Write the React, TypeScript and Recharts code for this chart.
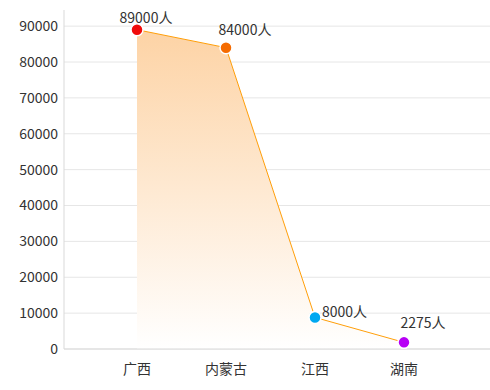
import React from "react";
import { AreaChart, Area, XAxis, YAxis, CartesianGrid, LabelList } from "recharts";

const provinces = ["广西", "内蒙古", "江西", "湖南"];
const people = [89000, 84000, 8800, 1850];
const labelTexts = ["89000人", "84000人", "8000人", "2275人"];
const yTicks = [0, 10000, 20000, 30000, 40000, 50000, 60000, 70000, 80000, 90000];

const DOT_COLORS = ["#f00a0a", "#f56b00", "#00a8f0", "#b700f5"];
// label offsets relative to each dot
const LABEL_OFFSETS = [
  { dx: 9, dy: -12, anchor: "middle" },
  { dx: 19, dy: -18, anchor: "middle" },
  { dx: 7, dy: -5, anchor: "start" },
  { dx: 19, dy: -19, anchor: "middle" },
];

const FONT = "'Noto Sans CJK SC', 'Noto Sans', sans-serif";

const data = provinces.map((name, i) => ({ name, value: people[i], label: labelTexts[i] }));

const Dot = (props: any) => {
  const { cx, cy, index } = props;
  return <circle cx={cx} cy={cy} r={6} fill={DOT_COLORS[index]} stroke="#fff" strokeWidth={1.5} />;
};

const PointLabel = (props: any) => {
  const { x, y, index, value } = props;
  const o = LABEL_OFFSETS[index];
  return (
    <text x={x + o.dx} y={y + o.dy} dy="0.35em" textAnchor={o.anchor} fontSize={14} fill="#333" fontFamily={FONT}>
      {value}
    </text>
  );
};

export default function App() {
  return (
    <div style={{ position: "absolute", left: 0, top: 0, background: "#fff" }}>
      <AreaChart width={490} height={390} data={data} margin={{ top: 10, right: 0, bottom: 11, left: 0 }}>
        <defs>
          <linearGradient id="areaFill" x1="0" y1="0" x2="0" y2="1">
            <stop offset="0%" stopColor="#fdd3a5" />
            <stop offset="100%" stopColor="#ffffff" />
          </linearGradient>
        </defs>
        <CartesianGrid vertical={false} stroke="#e6e6e6" syncWithTicks />
        <XAxis
          dataKey="name"
          padding={{ left: 73, right: 86 }}
          axisLine={{ stroke: "#d9d9d9" }}
          tickLine={false}
          tickSize={0}
          tickMargin={15}
          height={30}
          tick={{ fontSize: 14, fill: "#333", fontFamily: FONT }}
        />
        <YAxis
          domain={[0, 94500]}
          ticks={yTicks}
          width={64}
          axisLine={{ stroke: "#d9d9d9" }}
          tickLine={false}
          tickSize={0}
          tickMargin={6}
          tick={{ fontSize: 14, fill: "#333", fontFamily: FONT }}
        />
        <Area
          type="linear"
          dataKey="value"
          stroke="#ff9f0a"
          strokeWidth={1}
          fill="url(#areaFill)"
          fillOpacity={1}
          dot={<Dot />}
          activeDot={false}
          isAnimationActive={false}
        >
          <LabelList dataKey="label" content={<PointLabel />} />
        </Area>
      </AreaChart>
    </div>
  );
}
